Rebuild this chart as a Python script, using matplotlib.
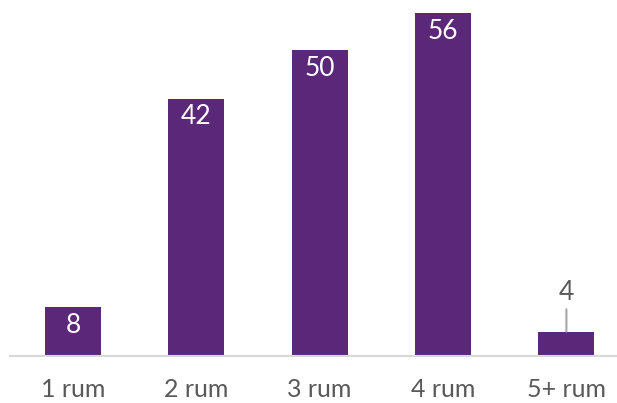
import matplotlib.pyplot as plt

plt.rcParams['font.family'] = ['Lato', 'DejaVu Sans']

categories = ['1 rum', '2 rum', '3 rum', '4 rum', '5+ rum']
values = [8, 42, 50, 56, 4]

bar_color = '#5B2879'
text_grey = '#595959'

fig = plt.figure(figsize=(6.17, 4.03), dpi=100)
ax = fig.add_axes([10 / 617, 1 - 356 / 403, 607 / 617, 344 / 403])

x = range(len(categories))
bars = ax.bar(x, values, width=0.455, color=bar_color, zorder=2)

ax.set_xlim(-0.51, 4.41)
ax.set_ylim(0, 56.2)

for i, (b, v) in enumerate(zip(bars, values)):
    cx = b.get_x() + b.get_width() / 2
    if v >= 8:
        ax.annotate(str(v), (cx, v), xytext=(0, -13), textcoords='offset points',
                    ha='center', va='center', color='white', fontsize=19)
    else:
        # small bar: label above with a leader line
        ax.annotate(str(v), (cx, v), xytext=(0, 28), textcoords='offset points',
                    ha='center', va='center', color=text_grey, fontsize=19,
                    arrowprops=dict(arrowstyle='-', color='#a6a6a6', lw=1.5,
                                    shrinkA=1, shrinkB=0))

ax.set_xticks(list(x))
ax.set_xticklabels(categories, fontsize=18, color=text_grey)
ax.tick_params(axis='x', length=0, pad=16)
ax.set_yticks([])

for side in ['top', 'right', 'left']:
    ax.spines[side].set_visible(False)
ax.spines['bottom'].set_color('#d9d9d9')
ax.spines['bottom'].set_linewidth(1.5)

fig.savefig('out.png', dpi=100)
